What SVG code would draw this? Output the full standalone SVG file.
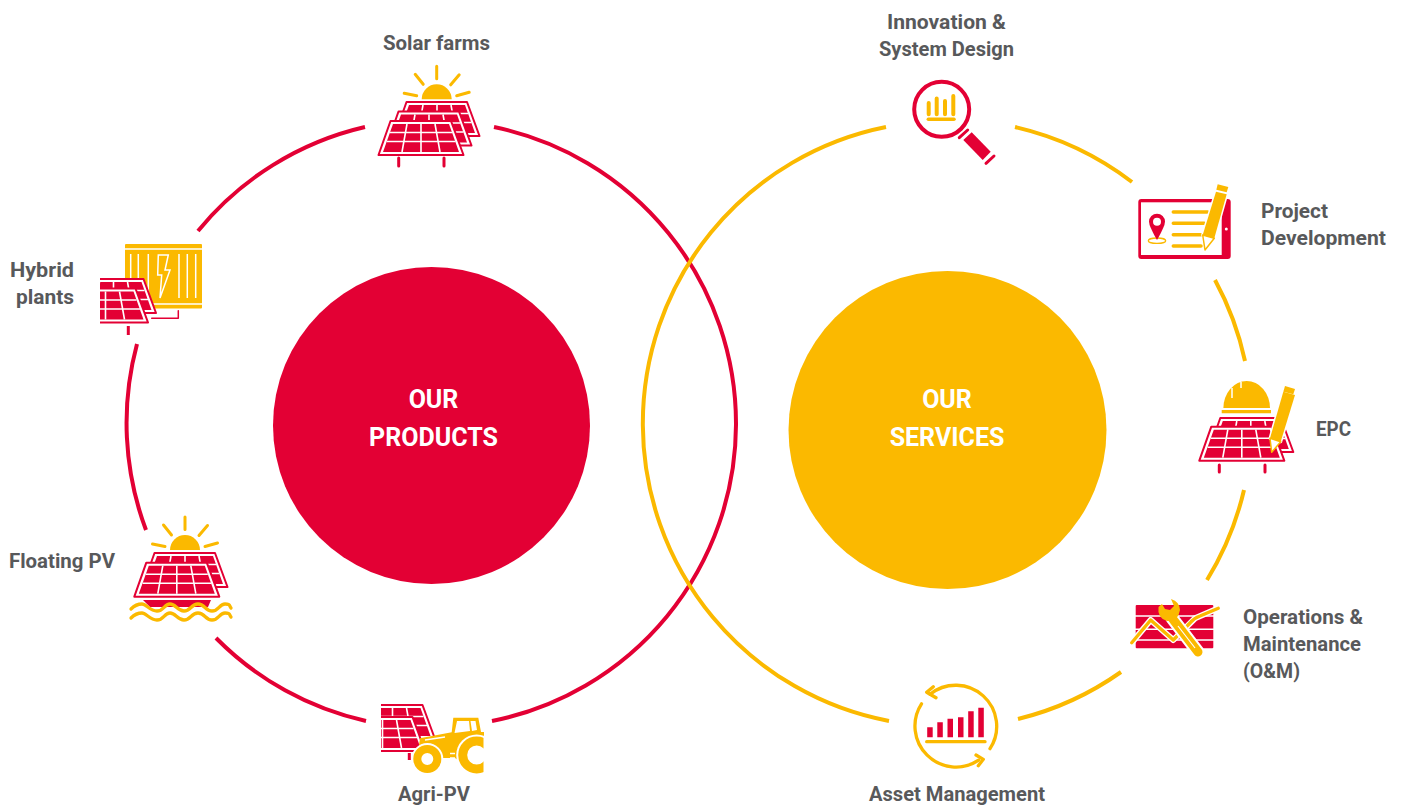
<svg xmlns="http://www.w3.org/2000/svg" width="1404" height="807" viewBox="0 0 1404 807">
<style>
.ring{fill:none;stroke-width:4;stroke-linecap:butt}
.r{stroke:#e30034}.y{stroke:#fbb900}
.fr{fill:#e30034}.fy{fill:#fbb900}.fw{fill:#fff}
.l{fill:none;stroke-linecap:round;stroke-linejoin:round}
.lbl{font-family:Roboto,"Liberation Sans",sans-serif;font-weight:700;font-size:20px;fill:#58595b}
.big{font-family:Roboto,"Liberation Sans",sans-serif;font-weight:700;font-size:25px;fill:#fff;text-anchor:middle}
.m{text-anchor:middle}
.e{text-anchor:end}
.halo{paint-order:stroke;stroke:#fff;stroke-width:3;stroke-linejoin:round}
.tip{fill:#fff;stroke:#fbb900;stroke-width:1.5;stroke-linejoin:round}
</style>
<defs>
<g id="panel">
<path d="M12,0H72.5L85,34H0Z" fill="#fff" stroke="#e30034" stroke-width="2" stroke-linejoin="round"/>
<path d="M14.5,3H70.5L80.5,31H4.5Z" fill="#e30034"/>
<path d="M11.5,11.5H73.5M8.3,20.5H77M28.5,3L23.5,31M42.5,3V31M56.5,3L61.5,31" fill="none" stroke="#fff" stroke-width="1.6"/>
</g>
<g id="sun">
<path d="M-15,0A15,15 0 0 1 15,0Z" fill="#fbb900"/>
<path d="M0,-33V-20.5M-21.5,-25L-13.5,-15M22.5,-24.5L14,-14.5M-32.5,-6L-20,-3.5M32.5,-7L20,-3.5" fill="none" stroke="#fbb900" stroke-width="3" stroke-linecap="round"/>
</g>
<clipPath id="cH"><rect x="100" y="260" width="80" height="80"/></clipPath>
<clipPath id="cA"><rect x="381" y="700" width="70" height="65"/></clipPath>
<clipPath id="cW"><rect x="440" y="720" width="43.5" height="60"/></clipPath>
</defs>
<g id="connectors">
<path class="ring r" d="M494,127A303,303 0 0 1 492,721"/>
<path class="ring r" d="M366,721A304,304 0 0 1 216,638"/>
<path class="ring r" d="M146,530A304,304 0 0 1 137,344"/>
<path class="ring r" d="M198,231A304,304 0 0 1 365,127"/>
<path class="ring y" d="M886,127A302.600,302.600 0 0 0 889,721"/>
<path class="ring y" d="M1015,127A304,304 0 0 1 1132,182"/>
<path class="ring y" d="M1215,280A304,304 0 0 1 1245,361"/>
<path class="ring y" d="M1244,490A304,304 0 0 1 1207,580"/>
<path class="ring y" d="M1121,672A304,304 0 0 1 1018,719"/>
</g>
<g id="our-products">
<circle class="fr" cx="431.5" cy="425.5" r="158.5"/>
<text class="big" x="433.500" y="408">OUR</text>
<text class="big" x="433.500" y="446">PRODUCTS</text>
</g>
<g id="our-services">
<circle class="fy" cx="947.500" cy="430" r="159"/>
<text class="big" x="947" y="408">OUR</text>
<text class="big" x="947" y="446">SERVICES</text>
</g>
<g id="solar-farms">
<text class="lbl m" x="436.500" y="50" textLength="107" lengthAdjust="spacingAndGlyphs">Solar farms</text>
<use href="#sun" x="436.700" y="99.300"/>
<use href="#panel" x="394.500" y="102"/>
<use href="#panel" x="386.500" y="111.500"/>
<use href="#panel" x="378.500" y="121"/>
<path class="l r" stroke-width="3" d="M398.700,158V166M444,158V166"/>
</g>
<g id="hybrid-plants">
<text class="lbl e" x="74" y="277" textLength="64" lengthAdjust="spacingAndGlyphs">Hybrid</text>
<text class="lbl e" x="74" y="304" textLength="58" lengthAdjust="spacingAndGlyphs">plants</text>
<rect class="fy" x="125" y="244" width="77" height="64.500" rx="1"/>
<path d="M125,249H202M125,304H202M130.700,254V298M138.300,254V298M148.300,254V298M179,254V298M187.300,254V298M195.700,254V298" fill="none" stroke="#fff" stroke-width="1.5"/>
<path d="M158.300,255H168.300L165,270H170L160,298L161.700,275H157.700Z" class="fy" stroke="#fff" stroke-width="1.500"/>
<path class="l r" stroke-width="1.500" d="M151.700,318.300H178.300V310.700"/>
<g clip-path="url(#cH)">
<use href="#panel" x="71" y="279"/>
<use href="#panel" x="63" y="288.500"/>
</g>
<path class="r" fill="none" stroke-width="3" d="M128.300,326V335"/>
</g>
<g id="floating-pv">
<text class="lbl" x="9" y="568" textLength="106" lengthAdjust="spacingAndGlyphs">Floating PV</text>
<use href="#sun" x="185" y="550"/>
<use href="#panel" x="142.500" y="553"/>
<use href="#panel" x="134.300" y="562.700"/>
<path class="fr" d="M143,600H211L208,607H150Z"/>
<path class="l y" stroke-width="3.300" d="M131,609C134,606 138,604 142,604S150,611 157,611S164,604 170,604S177,611 184,611S191,604 198,604S205,611 212,611S219,604 225,604S229,606 231,608"/>
<path class="l y" stroke-width="3.300" d="M131,618C134,615 138,613 142,613S150,620 157,620S164,613 170,613S177,620 184,620S191,613 198,613S205,620 212,620S219,613 225,613S229,615 231,617"/>
</g>
<g id="agri-pv">
<text class="lbl m" x="434" y="801" textLength="72" lengthAdjust="spacingAndGlyphs">Agri-PV</text>
<g clip-path="url(#cA)">
<use href="#panel" x="350" y="705"/>
<use href="#panel" x="340" y="717"/>
</g>
<path class="r" fill="none" stroke-width="3" d="M409.300,753V760"/>
<path class="fy" d="M419,745L420,738.300L451.700,732.300L453.300,717.700H478.300L481,732H484V760H458L455,758H420Z"/>
<path class="fw" d="M457,721H469L470,731L454.500,733ZM470.500,721H475.500L477,730L472,731Z"/>
<path d="M425,740L445,737M450,753.500H455M450,758H455" fill="none" stroke="#fff" stroke-width="1.500"/>
<circle class="fw" cx="476.700" cy="755" r="20.500"/>
<circle class="fw" cx="427.300" cy="759" r="16"/>
<circle cx="427.300" cy="759" r="10" fill="none" stroke="#fbb900" stroke-width="8"/>
<g clip-path="url(#cW)"><circle cx="476.700" cy="755" r="14" fill="none" stroke="#fbb900" stroke-width="9"/></g>
</g>
<g id="innovation">
<text class="lbl m" x="946.500" y="29" textLength="119" lengthAdjust="spacingAndGlyphs">Innovation &amp;</text>
<text class="lbl m" x="946.500" y="56" textLength="135" lengthAdjust="spacingAndGlyphs">System Design</text>
<circle cx="941.700" cy="109.300" r="27.500" fill="#fff" stroke="#e30034" stroke-width="4"/>
<path class="l y" stroke-width="4" d="M928.700,114.300V103M936.700,114.300V98.500M945,114.300V101M953.300,114.300V96"/>
<path class="l y" stroke-width="3.500" d="M928.300,119.300H954"/>
<path class="l r" stroke-width="3" d="M959.300,137.700L967.700,130M986,163.300L994,156"/>
<path class="fr" d="M963.300,140L971.700,132.300L990.700,151.700L982.700,160Z"/>
</g>
<g id="project-development">
<text class="lbl" x="1261" y="218" textLength="67" lengthAdjust="spacingAndGlyphs">Project</text>
<text class="lbl" x="1261" y="245" textLength="125" lengthAdjust="spacingAndGlyphs">Development</text>
<rect class="fr" x="1138.300" y="199" width="92.400" height="60" rx="3"/>
<rect class="fw" x="1141" y="202.300" width="80.700" height="52.700"/>
<circle class="fw" cx="1226.300" cy="229" r="1.500"/>
<ellipse cx="1157" cy="240.700" rx="8.700" ry="2.700" fill="#fff" stroke="#fbb900" stroke-width="1.300"/>
<path class="fr" d="M1149,221.700A8,8 0 0 1 1165,221.700Q1165,226 1157,240Q1149,226 1149,221.700Z"/>
<circle class="fw" cx="1157" cy="221.700" r="4"/>
<path class="l y" stroke-width="3.500" d="M1173.300,212H1207.700M1173.300,223.300H1204.300M1173.300,234.700H1201M1173.300,246H1201"/>
<path class="fy halo" d="M1202.700,235L1216,191.700L1226.700,194.300L1214.300,238.300Z"/>
<path class="fy" d="M1217.700,184.300L1228.300,187L1226.700,192.300L1216.300,189.700Z"/>
<path class="tip" d="M1202.700,235L1214.300,238.300L1205,250Z"/>
</g>
<g id="epc">
<text class="lbl" x="1316" y="436" textLength="35" lengthAdjust="spacingAndGlyphs">EPC</text>
<path class="fy" d="M1223.400,408A23.300,27 0 0 1 1270,408Z"/>
<path class="fy" d="M1221.700,410H1271V413.300H1221.700Z"/>
<path d="M1232,388V398M1241,382V388" fill="none" stroke="#fff" stroke-width="1.500"/>
<use href="#panel" x="1208.300" y="418"/>
<use href="#panel" x="1199.300" y="426.700"/>
<path class="l r" stroke-width="3" d="M1219.300,465V472M1265,465V472"/>
<path class="fy halo" d="M1270,438.300L1283.300,391.700L1295,395L1280.700,441.700Z"/>
<path class="fy" d="M1285,386L1295,389L1293.300,394.300L1283.300,391.700Z"/>
<path class="tip" d="M1270,438.300L1280.700,441.700L1271.700,452.300Z"/>
</g>
<g id="operations">
<text class="lbl" x="1243" y="624" textLength="120" lengthAdjust="spacingAndGlyphs">Operations &amp;</text>
<text class="lbl" x="1243" y="651" textLength="118" lengthAdjust="spacingAndGlyphs">Maintenance</text>
<text class="lbl" x="1243" y="678" textLength="57" lengthAdjust="spacingAndGlyphs">(O&amp;M)</text>
<rect class="fr" x="1135.700" y="605" width="77.600" height="43.300" rx="1"/>
<path d="M1135,616H1214M1135,629.300H1214M1135,640H1214" fill="none" stroke="#fff" stroke-width="1.500"/>
<path class="l" stroke="#fff" stroke-width="6" d="M1131.700,642.700L1150.700,620L1173.300,640L1195,618.300L1218.300,608.300"/>
<path class="l y" stroke-width="3.300" d="M1131.700,642.700L1150.700,620L1173.300,640L1190,623Q1194,618 1200,616L1218.300,608.300"/>
<path class="l" stroke="#fff" stroke-width="13" d="M1172,618L1198,652"/>
<path class="l y" stroke-width="9" d="M1172,618L1198,652"/>
<path d="M1178,626L1195,648" fill="none" stroke="#fff" stroke-width="1.200"/>
<path class="fy" d="M1158.500,607Q1157,618 1167,621Q1178,622 1180,610Q1180,602 1171,599L1174,606L1170,610L1165,609L1162,604Z"/>
</g>
<g id="asset-management">
<text class="lbl m" x="957" y="801" textLength="176" lengthAdjust="spacingAndGlyphs">Asset Management</text>
<path class="l y" stroke-width="3.300" d="M930,694.300A41,41 0 0 1 990,748.700M978.600,760.200A41,41 0 0 1 921.500,703.800"/>
<path class="l y" stroke-width="3.300" d="M933.300,686.700L926.700,692.300L936,697.700M976,755L983.300,759.300L978.300,765.700"/>
<path class="fr" d="M927.200,727.300h5.500v10h-5.500zM937.300,722.300h5.500v15h-5.500zM947.500,718.700h5.500v18.600h-5.500zM958,717.300h5.500v20h-5.500zM968.200,711.300h5.500v26h-5.500zM978.300,707.700h5.500v29.600h-5.500z"/>
<path class="l y" stroke-width="3.300" d="M926.700,741.700H985"/>
</g>
</svg>
